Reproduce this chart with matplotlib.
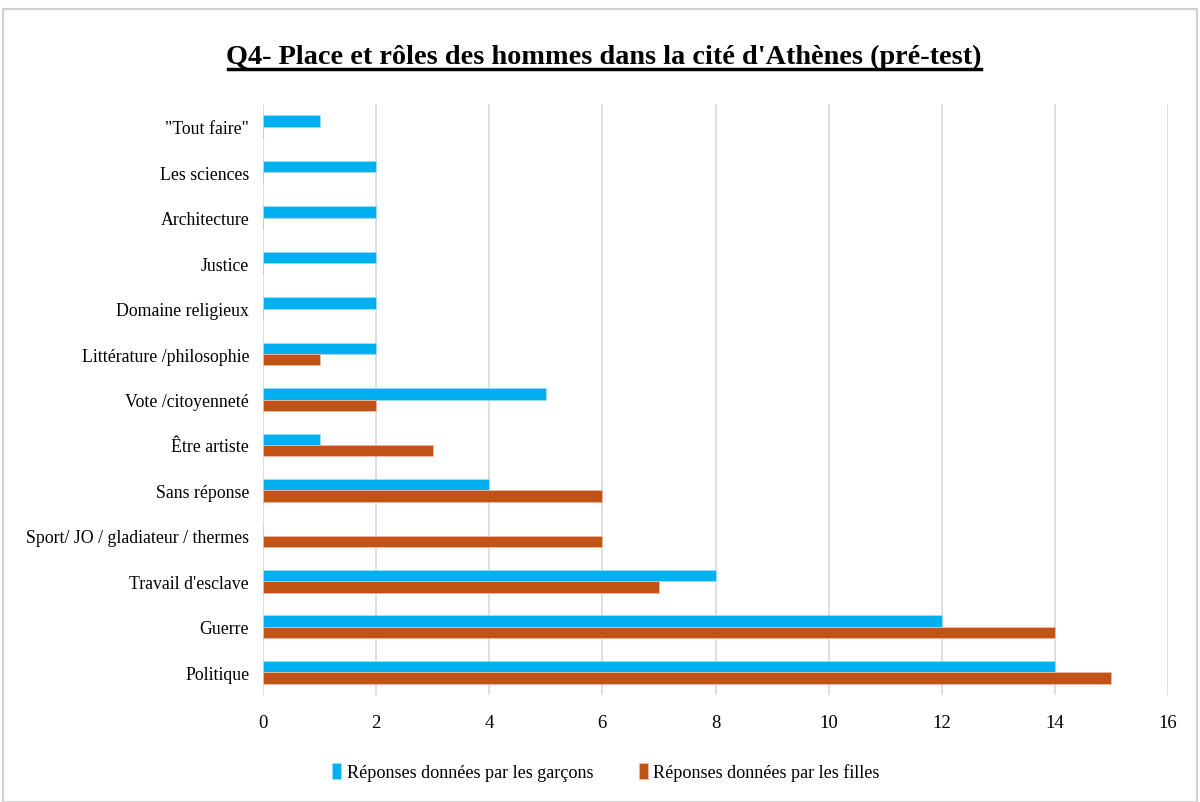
import matplotlib.pyplot as plt
import numpy as np
from matplotlib.patches import Rectangle

# donnees (du haut vers le bas)
categories = ['"Tout faire"', "Les sciences", "Architecture", "Justice",
              "Domaine religieux", "Littérature /philosophie", "Vote /citoyenneté",
              "Être artiste", "Sans réponse", "Sport/ JO / gladiateur / thermes",
              "Travail d'esclave", "Guerre", "Politique"]
garcons = [1, 2, 2, 2, 2, 2, 5, 1, 4, 0, 8, 12, 14]
filles = [0, 0, 0, 0, 0, 1, 2, 3, 6, 6, 7, 14, 15]
xticks = [0, 2, 4, 6, 8, 10, 12, 14, 16]

plt.rcParams['font.family'] = ['Liberation Serif', 'DejaVu Serif']

fig = plt.figure(figsize=(12, 8.03), dpi=100)
W, H = 1200, 803
ax = fig.add_axes([263 / W, 1 - 696 / H, (1168 - 263) / W, (696 - 105) / H])

y = np.arange(len(categories))
h = 0.25
ax.barh(y - h / 2, garcons, height=h, color="#00B0F0", edgecolor="#9fdcf5",
        linewidth=0.6, label="Réponses données par les garçons", zorder=3)
ax.barh(y + h / 2, filles, height=h, color="#C25317", edgecolor="#f0b8a0",
        linewidth=0.6, label="Réponses données par les filles", zorder=3)

ax.set_ylim(len(categories) - 0.5, -0.5)
ax.set_xlim(0, 16)
ax.set_xticks(xticks)
ax.set_yticks(y)
ax.set_yticklabels(categories, fontsize=12.8)
ax.tick_params(axis="x", labelsize=13.5, length=0, pad=14)
ax.tick_params(axis="y", length=0, pad=10)
ax.grid(axis="x", color="#d9d9d9", linewidth=1.2, zorder=0)
for s in ax.spines.values():
    s.set_visible(False)

fig.text(0.5035, 1 - 64 / H, "Q4- Place et rôles des hommes dans la cité d'Athènes (pré-test)",
         ha="center", va="baseline", fontsize=20.3, fontweight="bold")
# soulignement du titre
fig.add_artist(plt.Line2D([228 / W, 981 / W], [1 - 70 / H, 1 - 70 / H],
                          color="black", linewidth=2.5))

fig.legend(loc="center", bbox_to_anchor=(0.505, 1 - 773 / H), ncol=2, frameon=False,
           fontsize=13.1, handlelength=0.5, handleheight=1.0, columnspacing=2.5,
           handletextpad=0.3)

fig.add_artist(Rectangle((3 / W, 0), 1 - 6 / W, 1 - 10 / H, transform=fig.transFigure,
                         fill=False, edgecolor="#d0d0d0", linewidth=1.5))

fig.savefig("out.png", dpi=100)
